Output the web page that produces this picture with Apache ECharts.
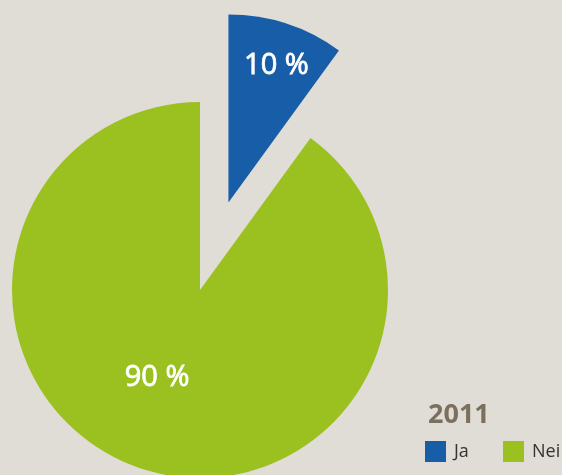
<!DOCTYPE html>
<html>
<head>
<meta charset="utf-8">
<script src="https://cdn.jsdelivr.net/npm/echarts@6/dist/echarts.min.js"></script>
<style>
html,body{margin:0;padding:0;background:#e0dcd6;}
#c{width:562px;height:475px;}
</style>
</head>
<body>
<div id="c"></div>
<script>
const categories = ['Ja', 'Nei'];
const values = [10, 90];
const colors = ['#185da7', '#9bc120'];
const titleText = '2011';

const chart = echarts.init(document.getElementById('c'), null, {renderer: 'canvas'});
const labelOffsets = [[18, -45], [-13, -5]];
const legendBase = {
  top: 441,
  itemWidth: 21,
  itemHeight: 21,
  icon: 'rect',
  selectedMode: false,
  padding: 0,
  textStyle: {fontFamily: 'Open Sans', fontSize: 18, color: '#333333', padding: [0, 0, 0, 3]}
};
chart.setOption({
  backgroundColor: '#e0dcd6',
  animation: false,
  title: {
    text: titleText,
    left: 423,
    top: 397,
    textStyle: {fontFamily: 'Open Sans', fontWeight: 'bold', fontSize: 27, color: '#7b6f5e'}
  },
  legend: [
    Object.assign({}, legendBase, {data: [categories[0]], left: 425}),
    Object.assign({}, legendBase, {data: [categories[1]], left: 503})
  ],
  series: [{
    type: 'pie',
    center: [200, 290],
    radius: [0, 188],
    startAngle: 90,
    clockwise: true,
    selectedMode: 'single',
    selectedOffset: 92,
    avoidLabelOverlap: false,
    emphasis: {disabled: true},
    itemStyle: {borderWidth: 0},
    label: {
      show: true,
      position: 'inside',
      formatter: '{c} %',
      fontFamily: 'Open Sans',
      fontWeight: 'normal',
      fontSize: 29,
      color: '#ffffff',
      textBorderColor: '#ffffff',
      textBorderWidth: 0.8
    },
    labelLine: {show: false},
    data: categories.map((n, i) => ({
      name: n,
      value: values[i],
      selected: i === 0,
      itemStyle: {color: colors[i]},
      label: {offset: labelOffsets[i]},
      select: {label: {offset: labelOffsets[i]}}
    }))
  }]
});
</script>
</body>
</html>
